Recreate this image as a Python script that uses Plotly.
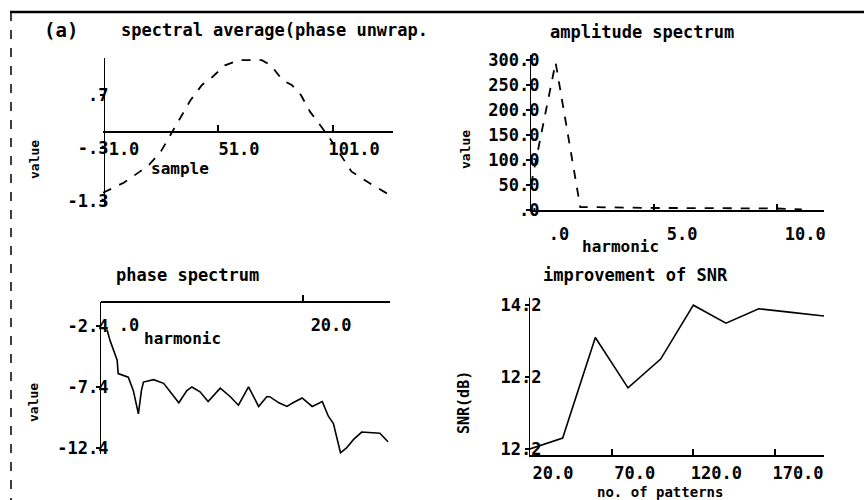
import plotly.graph_objects as go

W, H = 864, 500

# ---------------- data ----------------
sample = [1, 10, 17, 21, 26, 29, 32, 39, 44, 48, 54, 60, 70, 74, 79, 83, 87, 91, 95, 100, 109, 118, 127]
spec_avg = [-1.15, -0.96, -0.75, -0.62, -0.38, -0.15, 0.08, 0.60, 0.89, 1.02, 1.26, 1.36, 1.36, 1.26,
            0.98, 0.89, 0.70, 0.38, 0.15, -0.15, -0.75, -1.0, -1.23]

amp_harm = [0, 1, 2, 3, 4, 5, 6, 7, 8, 9, 10, 11]
amp_val = [50, 295, 6, 5, 4, 4, 4, 4, 4, 4, 3, 1]

ph_harm = [0.6, 0.9, 1.6, 1.7, 2.7, 3.2, 3.7, 4.0, 4.2, 5.2, 6.2, 7.2, 7.7, 8.5, 9.0, 9.8, 10.6, 11.8,
           12.8, 13.6, 14.3, 14.6, 15.1, 15.6, 16.4, 16.7, 17.6, 18.4, 19.0, 19.9, 20.9, 21.9, 22.5,
           23.0, 23.7, 24.3, 25.0, 25.8, 27.6, 28.4]
ph_val = [-2.7, -3.6, -5.2, -6.3, -6.6, -7.7, -9.6, -7.7, -7.0, -6.8, -7.1, -8.2, -8.7, -7.7, -7.4,
          -7.8, -8.6, -7.5, -8.2, -8.9, -7.8, -7.4, -8.2, -9.0, -8.2, -8.2, -8.7, -9.0, -8.7, -8.3,
          -9.0, -8.6, -9.8, -10.4, -12.8, -12.4, -11.7, -11.1, -11.2, -11.9]

patterns = [20, 40, 60, 80, 100, 120, 140, 160, 180, 200]
snr = [10.2, 10.5, 13.3, 11.9, 12.7, 14.2, 13.7, 14.1, 14.0, 13.9]

# tick labels
p1_xt, p1_xl = [1, 51, 101], ["1.0", "51.0", "101.0"]
p1_yt, p1_yl = [0.7, -0.3, -1.3], [".7", "-.3", "-1.3"]
p2_xt, p2_xl = [0, 5, 10], [".0", "5.0", "10.0"]
p2_yt, p2_yl = [0, 50, 100, 150, 200, 250, 300], [".0", "50.0", "100.0", "150.0", "200.0", "250.0", "300.0"]
p3_xt, p3_xl = [0, 20], [".0", "20.0"]
p3_yt, p3_yl = [-2.4, -7.4, -12.4], ["-2.4", "-7.4", "-12.4"]
p4_xt, p4_xl = [20, 70, 120, 170], ["20.0", "70.0", "120.0", "170.0"]
p4_yt, p4_yl = [10.2, 12.2, 14.2], ["12.2", "12.2", "14.2"]

FONT = "DejaVu Sans Mono"
TICKF = dict(family=FONT, size=17, color="black", weight="bold")


def px_x(v):
    return v / W


def px_y(v):
    return 1 - v / H


def dom_x(a, b):
    return [px_x(a), px_x(b)]


def dom_y(top, bottom):
    return [px_y(bottom), px_y(top)]


fig = go.Figure()
fig.add_trace(go.Scatter(x=sample, y=spec_avg, mode="lines", xaxis="x", yaxis="y",
                         line=dict(color="black", width=1.8, dash="dash")))
fig.add_trace(go.Scatter(x=amp_harm, y=amp_val, mode="lines", xaxis="x2", yaxis="y2",
                         line=dict(color="black", width=1.8, dash="dash")))
fig.add_trace(go.Scatter(x=ph_harm, y=ph_val, mode="lines", xaxis="x3", yaxis="y3",
                         line=dict(color="black", width=1.6)))
fig.add_trace(go.Scatter(x=patterns, y=snr, mode="lines", xaxis="x4", yaxis="y4",
                         line=dict(color="black", width=1.6)))

# domains / ranges
y1d, y1r = dom_y(58, 206), [-1.4, 1.4]
y3d, y3r = dom_y(302, 454), [-12.9, -0.43]


def pos_of(val, d, r):
    return d[0] + (val - r[0]) / (r[1] - r[0]) * (d[1] - d[0])


common_x = dict(showgrid=False, zeroline=False, showline=True, linecolor="black", linewidth=2,
                ticks="inside", ticklen=6, tickwidth=1.5, tickcolor="black", tickfont=TICKF,
                tickmode="array", ticklabelstandoff=8, fixedrange=True, automargin=False)
common_y = dict(showgrid=False, zeroline=False, showline=True, linecolor="black", linewidth=1.3,
                ticks="outside", ticklen=4, tickwidth=1.5, tickcolor="black", tickfont=TICKF,
                tickmode="array", ticklabelstandoff=-16, fixedrange=True, automargin=False)

fig.update_layout(
    template="none",
    width=W, height=H, margin=dict(l=0, r=0, t=0, b=0, pad=0, autoexpand=False),
    paper_bgcolor="white", plot_bgcolor="white", showlegend=False,
    xaxis=dict(common_x, domain=dom_x(103, 393), range=[1, 127], anchor="free",
               position=pos_of(0, y1d, y1r), tickvals=p1_xt, ticktext=p1_xl, ticklabelshift=21,
               ticklabelstandoff=2),
    yaxis=dict(common_y, domain=y1d, range=y1r, anchor="free", position=px_x(104),
               tickvals=p1_yt, ticktext=p1_yl, ticklabelstandoff=-12),
    xaxis2=dict(common_x, domain=dom_x(531, 824), range=[0, 11.9], anchor="y2",
                tickvals=p2_xt, ticktext=p2_xl, ticklabelshift=28),
    yaxis2=dict(common_y, domain=dom_y(55, 210), range=[0, 310], anchor="x2",
                tickvals=p2_yt, ticktext=p2_yl, ticklabelstandoff=-17),
    xaxis3=dict(common_x, domain=dom_x(101, 390), range=[0, 28.6], anchor="free",
                position=y3d[1], tickvals=p3_xt, ticktext=p3_xl, ticklabelshift=28),
    yaxis3=dict(common_y, domain=y3d, range=y3r, anchor="x3",
                tickvals=p3_yt, ticktext=p3_yl, ticklabelstandoff=-16),
    xaxis4=dict(common_x, domain=dom_x(530, 824), range=[20, 200], anchor="y4",
                tickvals=p4_xt, ticktext=p4_xl, ticklabelshift=23, ticklabelstandoff=2),
    yaxis4=dict(common_y, domain=dom_y(298, 455), range=[10.03, 14.4], anchor="x4",
                tickvals=p4_yt, ticktext=p4_yl, ticklabelstandoff=-20),
)

# frame lines (scan border)
fig.add_shape(type="line", xref="paper", yref="paper", x0=px_x(10), x1=1, y0=px_y(12), y1=px_y(12),
              line=dict(color="black", width=2.5))
fig.add_shape(type="line", xref="paper", yref="paper", x0=px_x(11), x1=px_x(11), y0=px_y(12), y1=0,
              line=dict(color="black", width=1.5, dash="dash"))


def label(text, cx, cy, size=17, angle=0, bold=False):
    fig.add_annotation(text=text, x=px_x(cx), y=px_y(cy),
                       xref="paper", yref="paper", showarrow=False, textangle=angle,
                       xanchor="center", yanchor="middle",
                       font=dict(family=FONT, size=size, color="black",
                                 weight="bold" if bold else "normal"))


label("(a)", 61, 30, size=19, bold=True)
label("spectral average(phase unwrap.", 274, 30, size=17, bold=True)
label("amplitude spectrum", 642, 32, size=17, bold=True)
label("phase spectrum", 187, 275, size=17, bold=True)
label("improvement of SNR", 635, 275, size=17, bold=True)

label("sample", 180, 168, size=16, bold=True)
label("harmonic", 620, 246, size=16, bold=True)
label("harmonic", 182, 338, size=16, bold=True)
label("no. of patterns", 660, 492, size=14, bold=True)

label("value", 34, 160, size=13, angle=-90, bold=True)
label("value", 465, 150, size=13, angle=-90, bold=True)
label("value", 33, 403, size=13, angle=-90, bold=True)
label("SNR(dB)", 464, 403, size=15, angle=-90, bold=True)

fig.write_html("out.html", config={"displayModeBar": False},
               post_script="document.body.style.margin='0px';document.body.style.overflow='hidden';")
